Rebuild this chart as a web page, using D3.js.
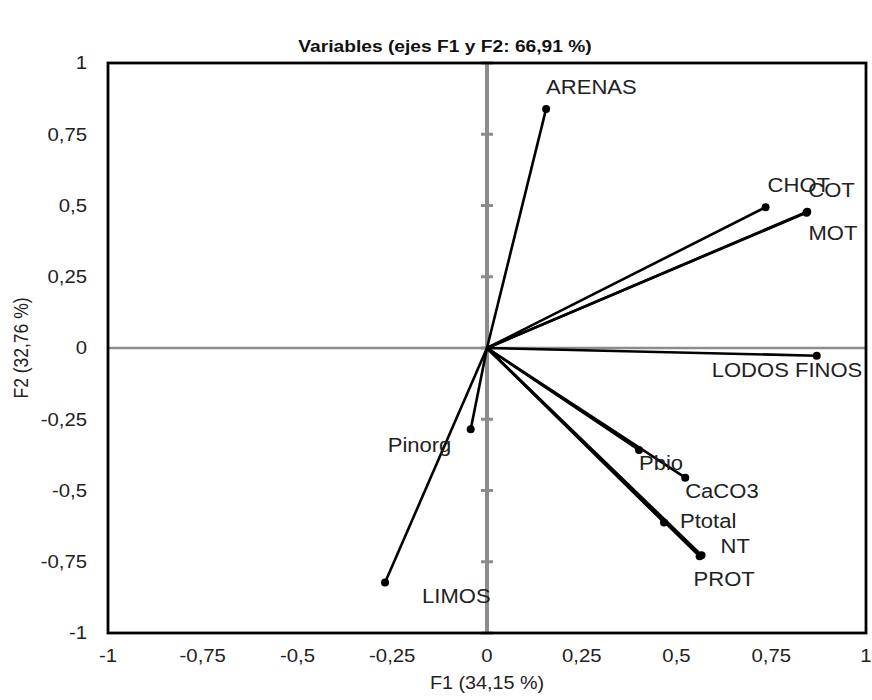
<!DOCTYPE html>
<html>
<head>
<meta charset="utf-8">
<script src="https://cdn.jsdelivr.net/npm/d3@7"></script>
<style>
  body { margin: 0; background: #fff; }
  svg { font-family: "Liberation Sans", Arial, sans-serif; }
</style>
</head>
<body>
<div id="drawing"></div>
<script>
// variable loadings on F1 / F2
const variables = ["ARENAS", "CHOT", "COT", "MOT", "LODOS FINOS", "Pinorg", "Pbio", "CaCO3", "Ptotal", "NT", "PROT", "LIMOS"];
const f1 = [0.156, 0.735, 0.845, 0.843, 0.870, -0.043, 0.401, 0.523, 0.467, 0.566, 0.561, -0.269];
const f2 = [0.839, 0.494, 0.478, 0.475, -0.027, -0.285, -0.358, -0.455, -0.612, -0.727, -0.731, -0.823];
// faint red line lying under Pbio
const redF1 = [0.403];
const redF2 = [-0.363];

const tickValues = [-1, -0.75, -0.5, -0.25, 0, 0.25, 0.5, 0.75, 1];
const tickLabels = ["-1", "-0,75", "-0,5", "-0,25", "0", "0,25", "0,5", "0,75", "1"];

// label placement relative to the point (px)
const labelOffset = {
  "ARENAS": [0, -15],
  "CHOT": [2, -15],
  "COT": [1, -15],
  "MOT": [2, 27],
  "LODOS FINOS": [-105, 21],
  "Pinorg": [-83, 23],
  "Pbio": [0, 20],
  "CaCO3": [0, 20],
  "Ptotal": [16, 6],
  "NT": [19, -2],
  "PROT": [-6, 30],
  "LIMOS": [37, 20]
};

const W = 872, H = 700;
const plotLeft = 108, plotRight = 866, plotTop = 63, plotBottom = 633;
const stretch = 1.13; // text in the picture is a little wider than tall

const svg = d3.select("#drawing").append("svg")
  .attr("width", W).attr("height", H);

const x = d3.scaleLinear().domain([-1, 1]).range([plotLeft, plotRight]);
const y = d3.scaleLinear().domain([-1, 1]).range([plotBottom, plotTop]);

const place = (px, py) => `translate(${px},${py}) scale(${stretch},1)`;

// title
svg.append("text")
  .attr("transform", place(445, 52))
  .attr("text-anchor", "middle")
  .attr("font-size", 17).attr("font-weight", "bold").attr("fill", "#111")
  .text("Variables (ejes F1 y F2: 66,91 %)");

// tick labels
svg.selectAll("text.xtick").data(tickValues).enter().append("text")
  .attr("class", "xtick")
  .attr("transform", (d) => place(x(d), 662))
  .attr("text-anchor", "middle").attr("font-size", 18).attr("fill", "#222")
  .text((d, i) => tickLabels[i]);

svg.selectAll("text.ytick").data(tickValues).enter().append("text")
  .attr("class", "ytick")
  .attr("transform", (d) => place(87, y(d)))
  .attr("dy", "0.35em")
  .attr("text-anchor", "end").attr("font-size", 18).attr("fill", "#222")
  .text((d, i) => tickLabels[i]);

// axis titles
svg.append("text")
  .attr("transform", place(x(0), 689))
  .attr("text-anchor", "middle").attr("font-size", 17.5).attr("fill", "#222")
  .text("F1 (34,15 %)");

svg.append("text")
  .attr("transform", `translate(28, ${y(0)}) rotate(-90) scale(1, ${stretch})`)
  .attr("text-anchor", "middle").attr("font-size", 17.5).attr("fill", "#222")
  .text("F2 (32,76 %)");

// gray axes through origin
const gray = "#8c8c8c";
svg.append("line")
  .attr("x1", x(-1)).attr("x2", x(1))
  .attr("y1", y(0)).attr("y2", y(0))
  .attr("stroke", gray).attr("stroke-width", 2.5);

svg.append("line")
  .attr("x1", x(0)).attr("x2", x(0))
  .attr("y1", y(-1)).attr("y2", y(1))
  .attr("stroke", gray).attr("stroke-width", 4);

svg.selectAll("line.vtick").data(tickValues).enter().append("line")
  .attr("class", "vtick")
  .attr("x1", x(0) - 6).attr("x2", x(0) + 6)
  .attr("y1", (d) => y(d)).attr("y2", (d) => y(d))
  .attr("stroke", gray).attr("stroke-width", 3);

// frame
svg.append("rect")
  .attr("x", plotLeft).attr("y", plotTop)
  .attr("width", plotRight - plotLeft).attr("height", plotBottom - plotTop)
  .attr("fill", "none").attr("stroke", "#000").attr("stroke-width", 2.8);

// red line
svg.selectAll("line.red").data(redF1).enter().append("line")
  .attr("class", "red")
  .attr("x1", x(0)).attr("y1", y(0))
  .attr("x2", (d) => x(d)).attr("y2", (d, i) => y(redF2[i]))
  .attr("stroke", "#ff6060").attr("stroke-width", 1);

// vectors
const data = variables.map((name, i) => ({ name: name, f1: f1[i], f2: f2[i] }));

svg.selectAll("line.vec").data(data).enter().append("line")
  .attr("class", "vec")
  .attr("x1", x(0)).attr("y1", y(0))
  .attr("x2", (d) => x(d.f1)).attr("y2", (d) => y(d.f2))
  .attr("stroke", "#000").attr("stroke-width", 2.6);

svg.selectAll("circle.pt").data(data).enter().append("circle")
  .attr("class", "pt")
  .attr("cx", (d) => x(d.f1)).attr("cy", (d) => y(d.f2))
  .attr("r", 4).attr("fill", "#000");

svg.selectAll("text.lab").data(data).enter().append("text")
  .attr("class", "lab")
  .attr("transform", (d) => place(x(d.f1) + labelOffset[d.name][0], y(d.f2) + labelOffset[d.name][1]))
  .attr("font-size", 19.5).attr("fill", "#222")
  .text((d) => d.name);
</script>
</body>
</html>
